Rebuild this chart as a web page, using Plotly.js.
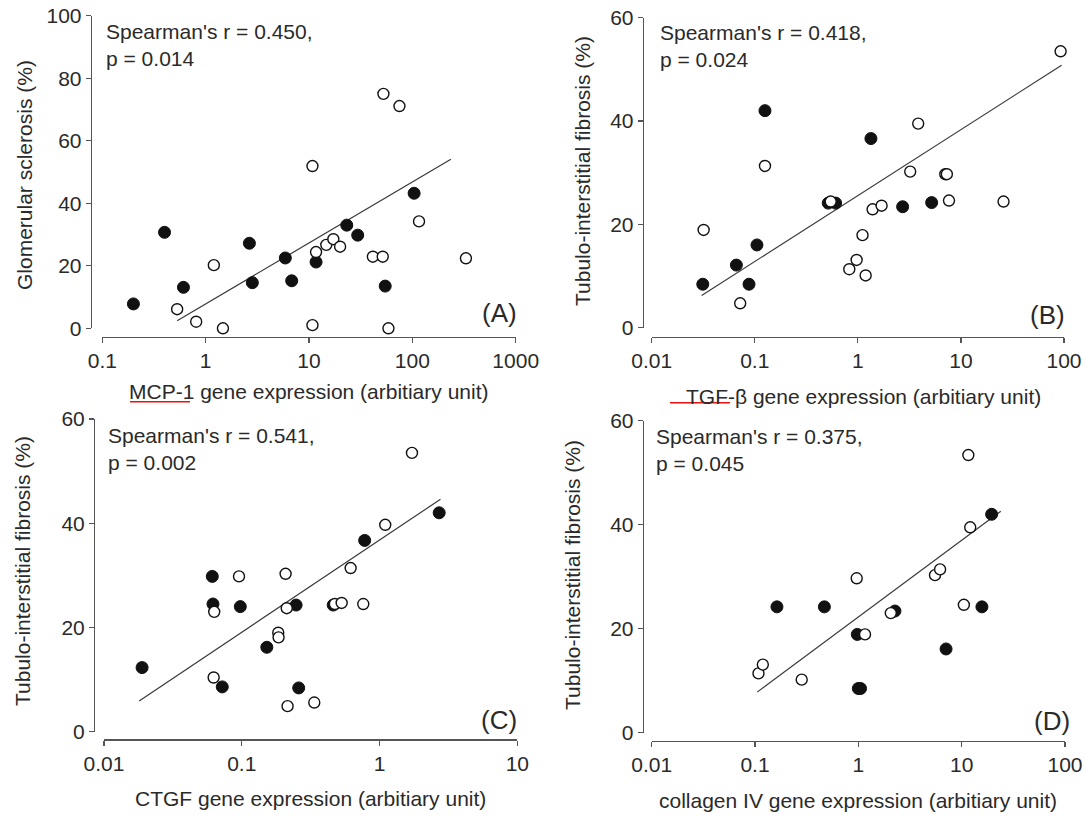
<!DOCTYPE html>
<html>
<head>
<meta charset="utf-8">
<script src="https://cdn.plot.ly/plotly-3.0.1.min.js"></script>
<style>html,body{margin:0;padding:0;background:#fff;}#chart{width:1086px;height:818px;}</style>
</head>
<body>
<div id="chart"></div>
<script>
// ---- Panel A: MCP-1 vs glomerular sclerosis ----
const aFilledX = [0.2, 0.4, 0.61, 2.65, 2.83, 5.9, 6.8, 11.7, 23.2, 29.6, 54.6, 104];
const aFilledY = [7.8, 30.7, 13.1, 27.2, 14.6, 22.5, 15.2, 21.2, 33.0, 29.8, 13.5, 43.2];
const aOpenX = [0.53, 0.81, 1.2, 1.47, 10.8, 10.8, 11.7, 14.7, 17.2, 20.0, 41.5, 51.7, 52.5, 58.7, 75, 116, 330];
const aOpenY = [6.1, 2.1, 20.2, 0, 51.9, 1.0, 24.4, 26.7, 28.5, 26.1, 22.9, 22.9, 75.0, 0, 71.1, 34.2, 22.4];
const aFitX = [0.53, 236];
const aFitY = [2.4, 54.1];

// ---- Panel B: TGF-beta vs tubulo-interstitial fibrosis ----
const bFilledX = [0.0313, 0.0663, 0.0879, 0.105, 0.1256, 0.516, 0.609, 1.34, 2.72, 5.2];
const bFilledY = [8.4, 12.1, 8.4, 16.0, 42.0, 24.1, 24.1, 36.6, 23.4, 24.2];
const bOpenX = [0.0319, 0.0722, 0.1256, 0.545, 0.826, 0.973, 1.11, 1.19, 1.39, 1.70, 3.22, 3.85, 7.05, 7.3, 7.66, 25.9, 92.7];
const bOpenY = [18.9, 4.7, 31.3, 24.4, 11.3, 13.1, 17.9, 10.1, 22.9, 23.6, 30.2, 39.5, 29.7, 29.7, 24.6, 24.4, 53.5];
const bFitX = [0.0305, 94.8];
const bFitY = [6.2, 50.8];

// ---- Panel C: CTGF vs tubulo-interstitial fibrosis ----
const cFilledX = [0.0189, 0.0611, 0.0618, 0.0722, 0.0976, 0.152, 0.248, 0.259, 0.461, 0.78, 2.71];
const cFilledY = [12.3, 29.8, 24.5, 8.6, 24.0, 16.2, 24.3, 8.4, 24.3, 36.7, 42.0];
const cOpenX = [0.0099, 0.0631, 0.0625, 0.0955, 0.184, 0.185, 0.208, 0.212, 0.215, 0.336, 0.474, 0.531, 0.617, 0.762, 1.10, 1.72];
const cOpenY = [11.4, 23.0, 10.4, 29.8, 19.0, 18.1, 30.3, 23.7, 4.9, 5.6, 24.5, 24.7, 31.4, 24.5, 39.7, 53.5];
const cFitX = [0.018, 2.77];
const cFitY = [5.9, 44.6];

// ---- Panel D: collagen IV vs tubulo-interstitial fibrosis ----
const dFilledX = [0.163, 0.469, 0.977, 1.0, 1.05, 2.26, 7.06, 15.7, 19.5];
const dFilledY = [24.2, 24.2, 18.9, 8.5, 8.5, 23.4, 16.1, 24.2, 42.0];
const dOpenX = [0.108, 0.119, 0.283, 0.964, 1.16, 2.06, 5.52, 6.18, 10.5, 11.6, 12.1];
const dOpenY = [11.4, 13.1, 10.2, 29.7, 18.9, 23.0, 30.3, 31.4, 24.6, 53.4, 39.5];
const dFitX = [0.105, 23.9];
const dFitY = [7.8, 42.6];

// ---- tick labels & texts ----
const xTicksA = [0.1, 1, 10, 100, 1000];
const xTickTextA = ['0.1', '1', '10', '100', '1000'];
const xTicksB = [0.01, 0.1, 1, 10, 100];
const xTickTextB = ['0.01', '0.1', '1', '10', '100'];
const xTicksC = [0.01, 0.1, 1, 10];
const xTickTextC = ['0.01', '0.1', '1', '10'];
const yTicksA = [0, 20, 40, 60, 80, 100];
const yTicks60 = [0, 20, 40, 60];
const xTitles = ['MCP-1 gene expression (arbitiary unit)', 'TGF-β gene expression (arbitiary unit)', 'CTGF gene expression (arbitiary unit)', 'collagen IV gene expression (arbitiary unit)'];
const yTitles = ['Glomerular sclerosis (%)', 'Tubulo-interstitial fibrosis (%)', 'Tubulo-interstitial fibrosis (%)', 'Tubulo-interstitial fibrosis (%)'];
const statTexts = ["Spearman's r = 0.450,<br>p = 0.014", "Spearman's r = 0.418,<br>p = 0.024", "Spearman's r = 0.541,<br>p = 0.002", "Spearman's r = 0.375,<br>p = 0.045"];
const panelLabels = ['(A)', '(B)', '(C)', '(D)'];

const W = 1086, H = 818;
const px = x => x / W;
const py = y => 1 - y / H;
const FONT = 'Liberation Sans, Arial, Helvetica, sans-serif';
const FS = 21;
const TXT = '#2a2a2a';
const AX = '#555555';

function scatterSet(fx, fy, ox, oy, lx, ly, xa, ya) {
  return [
    {x: lx, y: ly, xaxis: xa, yaxis: ya, type: 'scatter', mode: 'lines',
     line: {color: '#3a3a3a', width: 1.2}, cliponaxis: false, hoverinfo: 'skip'},
    {x: fx, y: fy, xaxis: xa, yaxis: ya, type: 'scatter', mode: 'markers',
     marker: {symbol: 'circle', size: 12, color: '#111111', line: {color: '#111111', width: 1}}, cliponaxis: false},
    {x: ox, y: oy, xaxis: xa, yaxis: ya, type: 'scatter', mode: 'markers',
     marker: {symbol: 'circle', size: 11, color: '#ffffff', line: {color: '#111111', width: 1.4}}, cliponaxis: false}
  ];
}

const data = [].concat(
  scatterSet(aFilledX, aFilledY, aOpenX, aOpenY, aFitX, aFitY, 'x', 'y'),
  scatterSet(bFilledX, bFilledY, bOpenX, bOpenY, bFitX, bFitY, 'x2', 'y2'),
  scatterSet(cFilledX, cFilledY, cOpenX, cOpenY, cFitX, cFitY, 'x3', 'y3'),
  scatterSet(dFilledX, dFilledY, dOpenX, dOpenY, dFitX, dFitY, 'x4', 'y4')
);

function xAxis(x0, x1, linePx, tv, tt) {
  return {type: 'log', domain: [px(x0), px(x1)], anchor: 'free', position: py(linePx),
    range: [Math.log10(tv[0]), Math.log10(tv[tv.length - 1])], tickvals: tv, ticktext: tt,
    ticks: 'outside', ticklen: 5, tickwidth: 1.2, tickcolor: AX, showline: true, linecolor: AX, linewidth: 1.2,
    showgrid: false, zeroline: false, tickfont: {family: FONT, size: FS, color: TXT}, fixedrange: true};
}
function yAxis(yTop, yBot, linePx, tv) {
  return {domain: [py(yBot), py(yTop)], anchor: 'free', position: px(linePx),
    range: [tv[0], tv[tv.length - 1]], tickvals: tv, ticktext: tv.map(String),
    ticks: 'outside', ticklen: 5, tickwidth: 1.2, tickcolor: AX, showline: true, linecolor: AX, linewidth: 1.2,
    showgrid: false, zeroline: false, tickfont: {family: FONT, size: FS, color: TXT}, fixedrange: true};
}

const annotations = [];
const xTitlePos = [[308, 391], [863, 396], [310, 798], [858, 800]];
const yTitlePos = [[25, 175], [582, 171], [22, 571], [572, 575]];
const statPos = [[104, 45], [658, 46], [106, 449], [654, 450]];
const labelPos = [[499, 313], [1047, 315], [499, 720], [1052, 721]];
for (let i = 0; i < 4; i++) {
  annotations.push({xref: 'paper', yref: 'paper', x: px(xTitlePos[i][0]), y: py(xTitlePos[i][1]),
    xanchor: 'center', yanchor: 'middle', showarrow: false, text: xTitles[i],
    font: {family: FONT, size: FS, color: TXT}});
  annotations.push({xref: 'paper', yref: 'paper', x: px(yTitlePos[i][0]), y: py(yTitlePos[i][1]),
    xanchor: 'center', yanchor: 'middle', showarrow: false, text: yTitles[i], textangle: -90,
    font: {family: FONT, size: FS, color: TXT}});
  annotations.push({xref: 'paper', yref: 'paper', x: px(statPos[i][0]), y: py(statPos[i][1]),
    xanchor: 'left', yanchor: 'middle', align: 'left', showarrow: false, text: statTexts[i],
    font: {family: FONT, size: FS, color: TXT}});
  annotations.push({xref: 'paper', yref: 'paper', x: px(labelPos[i][0]), y: py(labelPos[i][1]),
    xanchor: 'center', yanchor: 'middle', showarrow: false, text: panelLabels[i],
    font: {family: FONT, size: 26, color: TXT}});
}

const shapes = [
  {type: 'line', xref: 'paper', yref: 'paper', x0: px(130), x1: px(190), y0: py(401.7), y1: py(401.7), line: {color: '#ee1111', width: 1.6}},
  {type: 'line', xref: 'paper', yref: 'paper', x0: px(670), x1: px(730), y0: py(402.7), y1: py(402.7), line: {color: '#ee1111', width: 1.6}}
];

const layout = {
  width: W, height: H, margin: {l: 0, r: 0, t: 0, b: 0},
  paper_bgcolor: '#ffffff', plot_bgcolor: 'rgba(0,0,0,0)', showlegend: false,
  xaxis: xAxis(102.3, 515.7, 336.7, xTicksA, xTickTextA),
  yaxis: yAxis(15.7, 328.3, 90.7, yTicksA),
  xaxis2: xAxis(651.7, 1064, 336.7, xTicksB, xTickTextB),
  yaxis2: yAxis(17.7, 327.6, 642.7, yTicks60),
  xaxis3: xAxis(104, 517.3, 739.3, xTicksC, xTickTextC),
  yaxis3: yAxis(419, 731.7, 94, yTicks60),
  xaxis4: xAxis(651.7, 1065, 741, xTicksB, xTickTextB),
  yaxis4: yAxis(420.7, 732.7, 642.7, yTicks60),
  annotations: annotations, shapes: shapes
};

Plotly.newPlot('chart', data, layout, {staticPlot: true, displayModeBar: false});
</script>
</body>
</html>
